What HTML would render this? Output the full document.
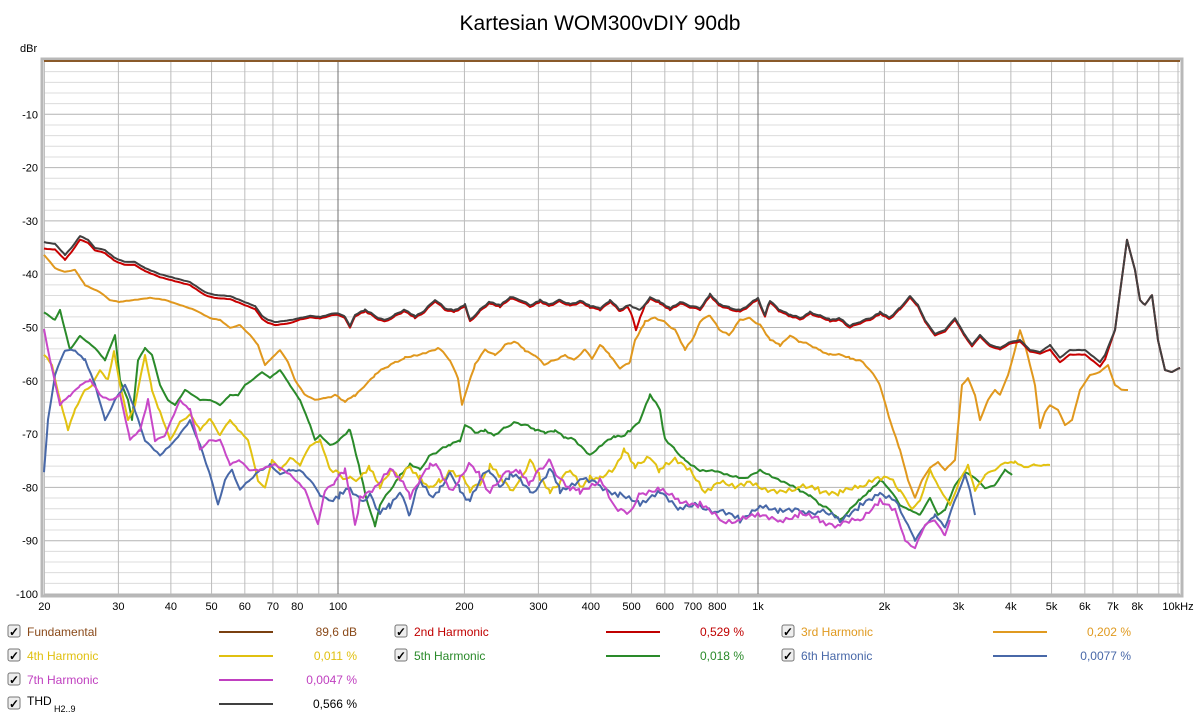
<!DOCTYPE html>
<html><head><meta charset="utf-8"><style>
body{margin:0;background:#fff;width:1200px;height:719px;overflow:hidden;font-family:"Liberation Sans",sans-serif}
svg{display:block}
text{font-family:"Liberation Sans",sans-serif}
</style></head><body>
<svg id="s" width="1200" height="719" xmlns="http://www.w3.org/2000/svg">
<rect width="1200" height="719" fill="#fff"/>
<text x="600" y="30" font-size="21" text-anchor="middle" fill="#000">Kartesian WOM300vDIY 90db</text>
<text x="20" y="52" font-size="11" fill="#000">dBr</text>
<g id="grid"></g>
<g id="curves" fill="none" stroke-width="2" stroke-linejoin="round"></g>
<g id="leg" font-size="12"></g>
</svg>
<script>
const NS="http://www.w3.org/2000/svg";
function el(p,t,a,txt){const e=document.createElementNS(NS,t);for(const k in a)e.setAttribute(k,a[k]);if(txt!==undefined)e.textContent=txt;p.appendChild(e);return e;}
const L=44,R=1180,T=61,B=594;
const fx=f=>338+420*Math.log10(f/100);
const g=document.getElementById('grid');
el(g,'rect',{x:42,y:59,width:R-40,height:B-57,fill:'#fff',stroke:'#b8b8b8','stroke-width':3});
for(let d=0;d<=100;d+=2){const y=T+5.33*d;el(g,'line',{x1:L,x2:R,y1:y,y2:y,stroke:d%10==0?'#b4b4b4':'#dcdcdc','stroke-width':1});}
const fr=[];for(let dec of [10,100,1000])for(let m=1;m<10;m++){const f=m*dec;if(f>=20&&f<=10000)fr.push(f);}fr.push(10000);
fr.forEach(f=>{const x=fx(f);el(g,'line',{x1:x,x2:x,y1:T,y2:B,stroke:(f==100||f==1000)?'#707070':'#bcbcbc','stroke-width':1});});
el(g,'line',{x1:L,x2:R,y1:T,y2:T,stroke:'#8a5a2a','stroke-width':2});
for(let d=10;d<=100;d+=10)el(g,'text',{x:38,y:T+5.33*d+4,'font-size':11,'text-anchor':'end',fill:'#000'},'-'+d);
const lab={20:'20',30:'30',40:'40',50:'50',60:'60',70:'70',80:'80',100:'100',200:'200',300:'300',400:'400',500:'500',600:'600',700:'700',800:'800',1000:'1k',2000:'2k',3000:'3k',4000:'4k',5000:'5k',6000:'6k',7000:'7k',8000:'8k'};
for(const f in lab)el(g,'text',{x:fx(+f),y:610,'font-size':11,'text-anchor':'middle',fill:'#000'},lab[f]);
el(g,'text',{x:1178,y:610,'font-size':11,'text-anchor':'middle',fill:'#000'},'10kHz');
const thd=[[44,242],[55,244],[65,255],[72,247],[80,236],[88,240],[95,248],[105,250],[115,258],[125,262],[135,262],[145,268],[160,274],[175,278],[190,282],[205,292],[215,295],[230,296],[245,302],[255,306],[262,316],[268,320],[275,322],[290,320],[300,318],[310,316],[320,317],[335,313],[345,316],[350,326],[355,315],[365,310],[375,316],[385,320],[395,315],[405,310],[415,316],[425,310],[435,300],[445,308],[455,310],[465,305],[470,320],[480,310],[490,302],[500,305],[510,297],[520,300],[530,305],[540,300],[550,305],[560,300],[570,304],[580,301],[590,306],[600,308],[610,300],[620,310],[630,305],[640,310],[650,298],[660,302],[670,308],[680,302],[690,306],[700,308],[710,294],[720,305],[730,308],[740,310],[750,304],[758,298],[765,315],[770,300],[780,310],[790,315],[800,318],[810,312],[820,316],[830,320],[840,318],[850,326],[860,322],[870,318],[880,312],[890,318],[900,308],[910,296],[918,305],[925,320],[935,334],[945,330],[955,318],[965,335],[972,345],[980,335],[990,345],[1000,348],[1010,342],[1020,340],[1030,350],[1040,352],[1050,345],[1060,358],[1070,350],[1085,350],[1100,362],[1105,355],[1115,330],[1127,240],[1135,270],[1140,300],[1145,305],[1152,295],[1158,340],[1165,370],[1172,372],[1180,368]];
let red=thd.map(([x,y])=>{let o=x<100?10-x*0.08:(x<300?3:1.5);if(x>=1115)o=0;if(x>1040&&x<1115)o+=3;return [x,y+o];});
red=red.filter(p=>!(p[0]==630||p[0]==640));
red.push([628,307],[633,318],[636,330],[640,318],[645,305]);red.sort((a,b)=>a[0]-b[0]);
const orange=[[44,255],[55,268],[65,272],[75,270],[85,285],[100,292],[110,300],[120,302],[135,300],[150,298],[165,300],[180,305],[195,310],[210,318],[220,320],[230,328],[240,325],[250,335],[258,345],[265,365],[272,358],[280,350],[288,362],[295,380],[305,395],[315,400],[325,398],[335,395],[345,402],[355,395],[365,385],[375,375],[385,368],[395,362],[405,358],[420,355],[440,348],[450,360],[458,378],[462,405],[468,385],[475,365],[485,350],[495,355],[505,345],[515,342],[525,350],[535,355],[545,365],[555,360],[565,355],[575,360],[585,350],[592,358],[600,345],[610,355],[620,368],[630,362],[635,340],[645,322],[655,318],[665,322],[675,330],[685,350],[692,340],[700,322],[710,315],[720,330],[730,335],[740,320],[750,318],[760,325],[770,340],[780,345],[790,335],[800,342],[810,345],[820,350],[830,355],[840,355],[850,358],[860,360],[870,370],[880,385],[890,420],[900,450],[908,480],[915,498],[922,480],[930,468],[938,462],[945,470],[955,460],[962,385],[968,378],[975,395],[980,420],[988,400],[995,390],[1000,395],[1008,375],[1015,350],[1020,330],[1025,345],[1030,365],[1035,385],[1040,428],[1045,412],[1050,405],[1058,410],[1065,425],[1072,420],[1080,390],[1090,375],[1100,372],[1108,365],[1115,385],[1122,390],[1128,390]];
const green=[[44,312],[55,320],[60,310],[70,350],[80,336],[95,348],[105,360],[115,335],[120,380],[128,400],[132,420],[138,360],[145,348],[152,355],[160,385],[168,400],[175,405],[185,390],[200,400],[210,400],[220,405],[230,395],[238,395],[245,385],[255,378],[262,372],[270,378],[280,370],[290,385],[300,400],[310,425],[315,440],[320,435],[330,445],[340,440],[350,430],[360,470],[368,505],[375,525],[380,505],[390,490],[400,475],[410,465],[420,470],[430,455],[440,450],[450,445],[460,440],[465,425],[475,432],[485,430],[495,436],[505,428],[515,422],[525,425],[535,430],[545,432],[555,430],[565,438],[575,440],[590,455],[605,442],[615,436],[625,435],[630,430],[640,420],[650,395],[660,410],[665,440],[675,450],[685,460],[700,470],[715,470],[730,475],[745,478],[760,470],[775,478],[790,485],[800,490],[810,495],[820,505],[830,510],[840,520],[850,510],[860,500],[870,490],[880,480],[890,490],[900,505],[910,510],[920,515],[930,498],[938,515],[945,510],[955,485],[965,472],[975,478],[985,488],[995,485],[1005,470],[1012,475]];
const yellow=[[44,355],[52,365],[60,400],[68,430],[75,410],[85,390],[92,385],[100,370],[108,380],[114,352],[120,385],[128,420],[135,405],[145,355],[152,390],[160,412],[170,440],[180,422],[190,415],[200,430],[210,418],[220,435],[230,420],[238,430],[248,440],[258,480],[265,488],[272,460],[280,470],[290,458],[300,465],[310,445],[320,440],[330,470],[340,475],[350,478],[360,480],[370,468],[380,485],[390,470],[400,480],[410,465],[420,478],[430,490],[440,482],[450,470],[460,476],[470,490],[480,482],[490,465],[500,478],[510,490],[520,480],[530,462],[540,478],[550,490],[560,482],[570,470],[580,485],[590,478],[600,480],[615,470],[625,450],[635,465],[650,455],[660,470],[675,460],[690,470],[705,492],[720,480],[735,485],[750,480],[765,488],[780,490],[800,488],[820,490],[840,492],[860,488],[875,478],[890,476],[900,490],[912,510],[920,500],[930,470],[940,490],[950,505],[960,480],[968,465],[975,490],[985,475],[995,470],[1005,462],[1015,462],[1025,468],[1035,465],[1045,465],[1050,465]];
const blue=[[44,472],[48,420],[55,375],[65,350],[75,350],[85,360],[95,385],[105,420],[115,400],[125,385],[135,410],[145,440],[160,455],[175,440],[190,420],[200,445],[210,475],[218,505],[225,480],[232,470],[240,490],[250,480],[260,470],[270,465],[280,475],[290,470],[300,470],[310,480],[320,495],[330,500],[340,495],[350,490],[360,500],[370,495],[380,515],[390,505],[400,490],[410,515],[420,480],[430,495],[440,490],[450,475],[460,490],[470,500],[480,480],[490,470],[500,485],[510,475],[520,480],[530,492],[540,485],[550,470],[560,490],[580,480],[600,485],[620,495],[640,505],[660,490],[680,510],[700,505],[720,512],[740,520],[760,505],[780,512],[800,510],[820,512],[840,520],[860,505],[880,495],[895,500],[905,520],[915,540],[925,525],[935,515],[945,528],[955,500],[965,475],[970,490],[975,515]];
const mag=[[44,330],[50,360],[60,405],[70,395],[80,385],[90,380],[100,395],[110,400],[120,395],[130,440],[140,430],[148,400],[155,440],[165,435],[180,400],[190,410],[200,450],[210,440],[220,440],[230,465],[240,460],[250,470],[260,470],[275,465],[290,475],[305,490],[318,525],[325,490],[335,480],[345,470],[355,525],[360,500],[375,490],[390,470],[400,480],[410,495],[420,478],[430,465],[440,470],[450,490],[460,480],[470,465],[480,475],[490,492],[500,480],[510,470],[520,470],[530,485],[540,470],[550,460],[560,480],[570,490],[580,490],[600,480],[615,510],[630,515],[640,495],[660,490],[680,500],[700,505],[720,520],[740,520],[760,515],[780,520],[800,515],[820,520],[840,525],[860,520],[880,500],[895,510],[905,540],[915,548],[925,525],[935,520],[945,535],[950,520]];
function jit(pts,amp,seed){const out=[];for(let i=0;i<pts.length-1;i++){const [x0,y0]=pts[i],[x1,y1]=pts[i+1];for(let x=x0;x<x1;x+=3){const t=(x-x0)/(x1-x0);const y=y0+(y1-y0)*t;const a=(x>330&&x<900)?amp:amp*0.3;out.push([x,+(y+a*Math.sin(x*1.7+seed)*Math.sin(x*0.37+seed*2)).toFixed(1)]);}}out.push(pts[pts.length-1]);return out;}
const c=document.getElementById('curves');
function pl(pts,col){el(c,'polyline',{points:pts.map(p=>p.join(',')).join(' '),stroke:col});}
pl(jit(orange,1.2,1),'#e0981e');pl(jit(green,1.5,2),'#2a8a2a');pl(jit(yellow,4,3),'#e2c212');pl(jit(blue,4,4),'#4868a8');pl(jit(mag,4,5),'#c848c8');pl(jit(red,1,6),'#c80000');pl(jit(thd,1,6),'#404040');
const lg=document.getElementById('leg');
const items=[
[0,0,'Fundamental','#8a4a1a','#7a4010','89,6 dB'],[1,0,'2nd Harmonic','#c00000','#c00000','0,529 %'],[2,0,'3rd Harmonic','#e09a20','#e09a20','0,202 %'],
[0,1,'4th Harmonic','#e0c010','#e0c010','0,011 %'],[1,1,'5th Harmonic','#2a8a2a','#2a8a2a','0,018 %'],[2,1,'6th Harmonic','#4868a8','#4868a8','0,0077 %'],
[0,2,'7th Harmonic','#c040c0','#c040c0','0,0047 %'],[0,3,'THD','#303030','#404040','0,566 %']];
items.forEach(([cx,ry,t,tc,lc,v])=>{const ox=cx*387,y=632+ry*24;
el(lg,'rect',{x:ox+8,y:y-7,width:12,height:12,rx:2,fill:'#eee',stroke:'#777'});
el(lg,'text',{x:ox+9,y:y+4,'font-size':12,fill:'#000','font-weight':'bold'},'✓');
const tx=el(lg,'text',{x:ox+27,y:y+4,fill:tc},t);
if(t=='THD'){el(lg,'text',{x:ox+54,y:y+8,'font-size':9,fill:'#000'},'H2..9');tx.setAttribute('fill','#000');tx.setAttribute('y',y+1);}
el(lg,'line',{x1:ox+219,x2:ox+273,y1:y,y2:y,stroke:lc,'stroke-width':2});
el(lg,'text',{x:ox+357,y:y+4,'text-anchor':'end',fill:t=='THD'?'#000':tc},v);
});
</script>
</body></html>
